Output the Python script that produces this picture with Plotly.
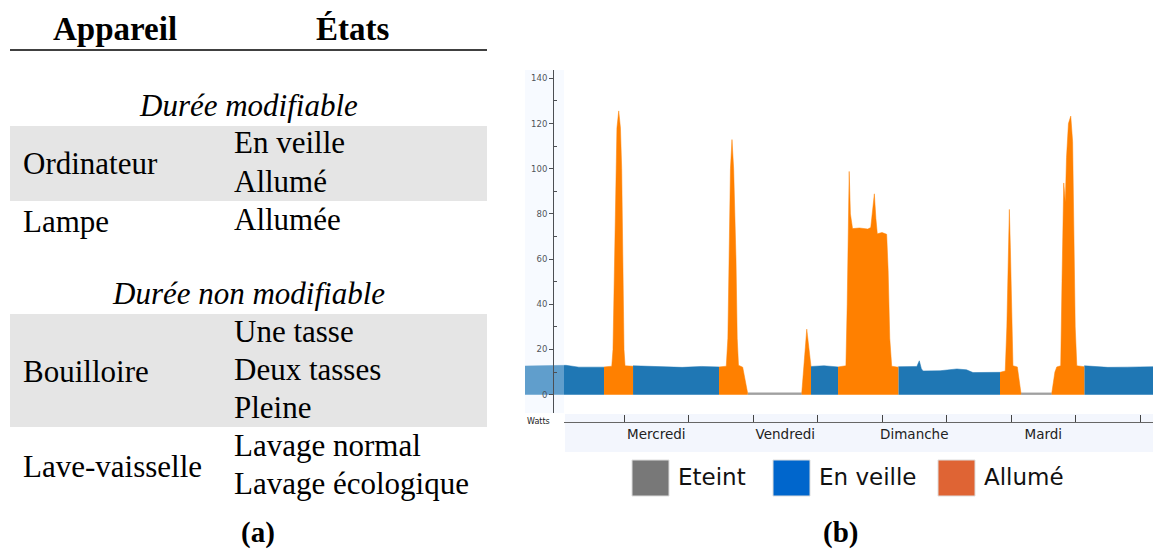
import plotly.graph_objects as go

W, H = 1153, 549

# (b) consumption trace, x in days since Tuesday 00:00, y in watts
veille_x = [-0.535, 0.10, 0.30, 0.690, None,
            1.140, 1.50, 1.90, 2.20, 2.473, None,
            3.899, 4.10, 4.318, None,
            5.253, 5.45, 5.54, 5.578, 5.61, 5.636, 5.90, 6.16, 6.31, 6.41, 6.829, None,
            8.136, 8.50, 8.80, 9.201]
veille_y = [12.7, 13.0, 12.2, 12.2, None,
            12.8, 12.4, 12.1, 12.5, 12.3, None,
            12.5, 12.8, 12.3, None,
            12.4, 12.6, 12.5, 15.0, 11.5, 10.5, 10.6, 11.4, 11.0, 9.8, 9.9, None,
            12.8, 12.1, 12.2, 12.4]

allume_x = [0.690, 0.81, 0.829, 0.85, 0.871, 0.89, 0.918, 0.945, 0.964, 0.98, 1.0, 1.016, 1.140, None,
            2.473, 2.585, 2.61, 2.633, 2.65, 2.674, 2.70, 2.736, 2.755, 2.775, 2.84, 2.918, None,
            3.755, 3.833, 3.899, None,
            4.318, 4.44, 4.46, 4.475, 4.491, 4.51, 4.543, 4.65, 4.78, 4.825, 4.855, 4.881, 4.905,
            4.927, 5.0, 5.072, 5.095, 5.12, 5.15, 5.253, None,
            6.829, 6.91, 6.935, 6.955, 6.974, 6.99, 7.01, 7.03, 7.098, 7.155, None,
            7.631, 7.68, 7.709, 7.77, 7.79, 7.817, 7.842, 7.86, 7.89, 7.926, 7.955, 7.975, 7.995,
            8.02, 8.136]
allume_y = [12.3, 12.6, 20, 60, 100, 118, 125.6, 118, 100, 60, 20, 12.8, 12.6, None,
            12.3, 12.6, 25, 60, 100, 112.9, 100, 60, 25, 13, 12.2, 0.5, None,
            0.5, 29, 12.5, None,
            12.3, 12.8, 40, 75, 98.8, 80, 73.5, 73.8, 73.3, 74, 82, 88.9, 78,
            71.2, 71.8, 71, 55, 25, 12.6, 12.2, None,
            9.9, 10.5, 30, 65, 82, 65, 30, 12.8, 12.3, 0.5, None,
            0.5, 10, 12.3, 12.8, 50, 93.7, 85.2, 105, 120, 123.3, 112, 70, 30,
            12.8, 12.4]

eteint_x = [2.918, 3.755, None, 7.155, 7.631]
eteint_y = [0.5, 0.5, None, 0.5, 0.5]

day_ticks = [1.5, 3.5, 5.5, 7.5]
day_labels = ["Mercredi", "Vendredi", "Dimanche", "Mardi"]

legend_labels = ["Eteint", "En veille", "Allumé"]
legend_colors = ["#787878", "#0066cc", "#df6434"]

# (a) table
groups = ["Durée modifiable", "Durée non modifiable"]
appareils = [["Ordinateur", "Lampe"], ["Bouilloire", "Lave-vaisselle"]]
etats = [[["En veille", "Allumé"], ["Allumée"]],
         [["Une tasse", "Deux tasses", "Pleine"], ["Lavage normal", "Lavage écologique"]]]


def px(x):
    return x / W


def py(y):
    return 1 - y / H


def segments(xs, ys):
    # split the series on None so each run gets its own filled area
    cur_x, cur_y = [], []
    for a, b in zip(xs + [None], ys + [None]):
        if a is None:
            if cur_x:
                yield cur_x, cur_y
            cur_x, cur_y = [], []
        else:
            cur_x.append(a)
            cur_y.append(b)


fig = go.Figure()
for sx, sy in segments(eteint_x, eteint_y):
    fig.add_trace(go.Scatter(x=sx, y=sy, mode="lines", fill="tozeroy",
                             line=dict(color="#a0a0a0", width=2), fillcolor="#a0a0a0",
                             showlegend=False, hoverinfo="skip"))
for sx, sy in segments(veille_x, veille_y):
    fig.add_trace(go.Scatter(x=sx, y=sy, mode="lines", fill="tozeroy",
                             line=dict(color="#1f77b4", width=0.5), fillcolor="#1f77b4",
                             showlegend=False))
for sx, sy in segments(allume_x, allume_y):
    fig.add_trace(go.Scatter(x=sx, y=sy, mode="lines", fill="tozeroy",
                             line=dict(color="#ff8000", width=0.5), fillcolor="#ff8000",
                             showlegend=False))

shapes = []
annotations = []

# chart panels
shapes.append(dict(type="rect", xref="paper", yref="paper", layer="below",
                   x0=px(565), x1=1, y0=py(452), y1=py(414),
                   fillcolor="#f3f6fd", line=dict(width=0)))
shapes.append(dict(type="rect", xref="paper", yref="paper", layer="above",
                   x0=px(525), x1=px(564), y0=py(413), y1=py(70),
                   fillcolor="rgba(232,240,255,0.33)", line=dict(width=0)))
shapes.append(dict(type="rect", xref="paper", yref="paper", layer="above",
                   x0=px(524), x1=px(564), y0=py(452), y1=py(414),
                   fillcolor="white", line=dict(width=0)))
annotations.append(dict(text="Watts", x=px(525), y=py(421), xref="paper", yref="paper",
                        xanchor="left", yanchor="middle", showarrow=False,
                        font=dict(family="DejaVu Sans", size=8, color="#222")))

# legend of (b)
leg_x = [632, 773, 938]
for lab, col, x0 in zip(legend_labels, legend_colors, leg_x):
    shapes.append(dict(type="rect", xref="paper", yref="paper",
                       x0=px(x0), x1=px(x0 + 37), y0=py(496), y1=py(460),
                       fillcolor=col, line=dict(color="#dddddd", width=1)))
    annotations.append(dict(text=lab, x=px(x0 + 44), y=py(477), xref="paper", yref="paper",
                            xanchor="left", yanchor="middle", showarrow=False,
                            font=dict(family="DejaVu Sans", size=23, color="#111")))

# table (a)
serif = "Liberation Serif"
annotations.append(dict(text="<b>Appareil</b>", x=px(115), y=py(29), xref="paper", yref="paper",
                        xanchor="center", yanchor="middle", showarrow=False,
                        font=dict(family=serif, size=33, color="black")))
annotations.append(dict(text="<b>États</b>", x=px(352), y=py(29), xref="paper", yref="paper",
                        xanchor="center", yanchor="middle", showarrow=False,
                        font=dict(family=serif, size=33, color="black")))
shapes.append(dict(type="line", xref="paper", yref="paper", x0=px(10), x1=px(487),
                   y0=py(50), y1=py(50), line=dict(color="black", width=1.5)))

group_y = [105, 293]
row_h = 38
for g, gname in enumerate(groups):
    annotations.append(dict(text="<i>" + gname + "</i>", x=px(248), y=py(group_y[g]),
                            xref="paper", yref="paper", xanchor="center", yanchor="middle",
                            showarrow=False, font=dict(family=serif, size=31, color="black")))
    y = group_y[g] + 21
    for r, app in enumerate(appareils[g]):
        n = len(etats[g][r])
        if r == 0:
            shapes.append(dict(type="rect", xref="paper", yref="paper", layer="below",
                               x0=px(10), x1=px(487), y0=py(y + n * row_h - 1), y1=py(y),
                               fillcolor="#e5e5e5", line=dict(width=0)))
        annotations.append(dict(text=app, x=px(21), y=py(y + n * row_h / 2), xref="paper",
                                yref="paper", xanchor="left", yanchor="middle", showarrow=False,
                                font=dict(family=serif, size=31, color="black")))
        for k, et in enumerate(etats[g][r]):
            annotations.append(dict(text=et, x=px(232), y=py(y + row_h * (k + 0.5) - 2),
                                    xref="paper", yref="paper", xanchor="left", yanchor="middle",
                                    showarrow=False,
                                    font=dict(family=serif, size=31, color="black")))
        y += n * row_h

annotations.append(dict(text="<b>(a)</b>", x=px(258), y=py(532), xref="paper", yref="paper",
                        xanchor="center", yanchor="middle", showarrow=False,
                        font=dict(family=serif, size=29, color="black")))
annotations.append(dict(text="<b>(b)</b>", x=px(840), y=py(532), xref="paper", yref="paper",
                        xanchor="center", yanchor="middle", showarrow=False,
                        font=dict(family=serif, size=29, color="black")))

fig.update_layout(
    width=W, height=H,
    margin=dict(l=0, r=0, t=0, b=0),
    paper_bgcolor="white", plot_bgcolor="white",
    showlegend=False,
    shapes=shapes, annotations=annotations,
    xaxis=dict(domain=[px(525), 1], range=[-0.535, 9.201], anchor="free", position=py(422),
               showline=True, linecolor="#666", linewidth=1, showgrid=False, zeroline=False,
               tickmode="array", tickvals=day_ticks, ticktext=day_labels, ticks="",
               tickfont=dict(family="DejaVu Sans", size=13.5, color="#222"),
               minor=dict(tickmode="linear", tick0=0, dtick=1, ticks="inside", ticklen=7,
                          tickcolor="#444", tickwidth=1),
               fixedrange=True),
    yaxis=dict(domain=[py(413), py(70)], range=[-8.1, 143.7], anchor="free", position=px(553),
               showline=True, linecolor="black", linewidth=1, showgrid=False, zeroline=False,
               tickmode="array", tickvals=list(range(0, 141, 20)), ticks="outside", ticklen=4,
               tickcolor="black",
               tickfont=dict(family="DejaVu Sans", size=8.5, color="black"),
               minor=dict(tickmode="linear", tick0=10, dtick=20, ticks="inside", ticklen=3,
                          tickcolor="black"),
               fixedrange=True),
)

fig.write_html("out.html", config={"displayModeBar": False},
               post_script="document.body.style.margin='0';")
